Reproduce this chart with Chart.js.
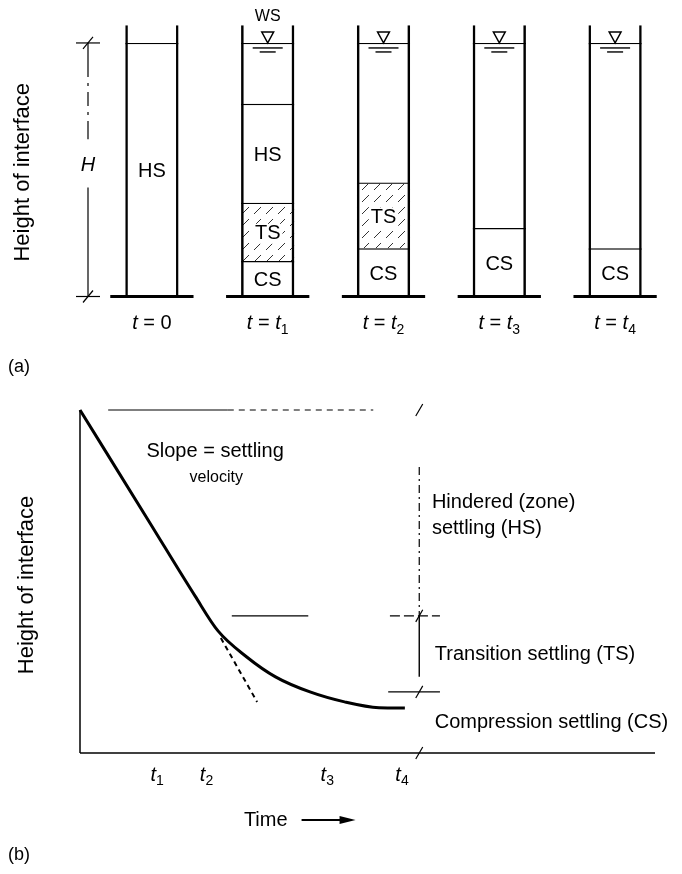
<!DOCTYPE html>
<html>
<head>
<meta charset="utf-8">
<script src="https://cdn.jsdelivr.net/npm/chart.js@4.4.1/dist/chart.umd.min.js"></script>
<style>
  body { margin: 0; background: #fff; }
  canvas { display: block; }
</style>
</head>
<body>
<canvas id="columns" width="682" height="380"></canvas>
<canvas id="curve" width="682" height="494"></canvas>
<script>
const FONT = '"Liberation Sans", Arial, sans-serif';

// (a) layers in each settling column, heights in % of H (water surface = 100)
const columnTimes = ['0', '1', '2', '3', '4'];
const csHeight = [null, 14, 19, 27, 19];
const tsHeight = [null, 23, 26, null, null];
const hsHeight = [100, 39, null, null, null];
const clearHeight = [null, 24, 55, 73, 81];
const wallHeight = [107, 107, 107, 107, 107];

// (b) height of interface against time
const timeValues = [0, 12, 20, 24, 29, 34, 40, 46, 52, 56.5];
const interfaceHeight = [100, 67.5, 45.8, 35.6, 28, 22.2, 17.8, 14.9, 13.2, 13.1];
const tangentTime = [24.5, 30.8];
const tangentHeight = [33.5, 14.9];
const timeTicks = [13.4, 22, 43, 56];
const timeTickNames = ['1', '2', '3', '4'];

// guide levels for the right-hand dimension
const levelTop = 100;
const levelTS = 40;
const levelCS = 17.8;
const dimTime = 59;

// text with italic / subscript parts
function drawParts(ctx, parts, x, y, size, align) {
  const fontOf = p => (p[1] === 'i' ? 'italic ' : '') + (p[1] === 's' ? Math.round(size * 0.72) : size) + 'px ' + FONT;
  let w = 0;
  parts.forEach(p => { ctx.font = fontOf(p); w += ctx.measureText(p[0]).width; });
  let cx = align === 'center' ? x - w / 2 : x;
  ctx.textAlign = 'left';
  parts.forEach(p => {
    ctx.font = fontOf(p);
    ctx.fillText(p[0], cx, p[1] === 's' ? y + size * 0.32 : y);
    cx += ctx.measureText(p[0]).width;
  });
}

function line(ctx, x1, y1, x2, y2) {
  ctx.beginPath(); ctx.moveTo(x1, y1); ctx.lineTo(x2, y2); ctx.stroke();
}

// hatch for transition zone
function makeHatch() {
  const c = document.createElement('canvas');
  c.width = 12; c.height = 12;
  const g = c.getContext('2d');
  g.strokeStyle = '#333'; g.lineWidth = 1;
  line(g, 2, 10, 9, 3);
  return g.createPattern(c, 'repeat');
}

const columnDecor = {
  id: 'columnDecor',
  afterDatasetsDraw(chart) {
    const {ctx, scales: {x, y}, chartArea} = chart;
    const base = y.getPixelForValue(0);
    const water = y.getPixelForValue(100);
    const half = chart.getDatasetMeta(0).data[0].width / 2;
    ctx.save();
    ctx.fillStyle = '#000';
    ctx.strokeStyle = '#000';
    ctx.textBaseline = 'middle';

    // zone names inside the layers
    chart.data.datasets.forEach((ds, di) => {
      if (!ds.label) return;
      const meta = chart.getDatasetMeta(di);
      ds.data.forEach((v, i) => {
        if (v == null) return;
        const el = meta.data[i];
        const cy = (el.y + el.base) / 2 + 2;
        ctx.font = '20px ' + FONT;
        ctx.textAlign = 'center';
        if (ds.label === 'TS') {
          const w = ctx.measureText('TS').width;
          ctx.fillStyle = '#fff';
          ctx.fillRect(el.x - w / 2 - 2, cy - 10, w + 4, 20);
          ctx.fillStyle = '#000';
        }
        ctx.fillText(ds.label, el.x, cy);
      });
    });

    columnTimes.forEach((t, i) => {
      const cx = x.getPixelForValue(i);
      // base plate
      ctx.lineWidth = 3;
      line(ctx, cx - half - 15, base, cx + half + 15, base);
      // water surface mark
      if (i > 0) {
        ctx.lineWidth = 1.4;
        ctx.beginPath();
        ctx.moveTo(cx, water);
        ctx.lineTo(cx - 6, water - 11);
        ctx.lineTo(cx + 6, water - 11);
        ctx.closePath();
        ctx.stroke();
        line(ctx, cx - 15, water + 5, cx + 15, water + 5);
        line(ctx, cx - 8, water + 9, cx + 8, water + 9);
      }
      // time label
      const parts = i === 0 ? [['t', 'i'], [' = 0', '']] : [['t', 'i'], [' = ', ''], ['t', 'i'], [t, 's']];
      drawParts(ctx, parts, cx, base + 27, 20, 'center');
    });

    ctx.font = '16px ' + FONT;
    ctx.textAlign = 'center';
    ctx.fillText('WS', x.getPixelForValue(1), water - 26);

    // H dimension
    const dx = chartArea.left - 6;
    ctx.lineWidth = 1.2;
    ctx.setLineDash([34, 6, 3, 6, 14, 6, 3, 6, 20]);
    line(ctx, dx, water, dx, y.getPixelForValue(62));
    ctx.setLineDash([]);
    line(ctx, dx, y.getPixelForValue(43), dx, base);
    [water, base].forEach(py => {
      line(ctx, dx - 12, py, dx + 12, py);
      line(ctx, dx - 5, py + 6, dx + 5, py - 6);
    });
    drawParts(ctx, [['H', 'i']], dx, y.getPixelForValue(51.5), 20, 'center');

    ctx.font = '18px ' + FONT;
    ctx.textAlign = 'left';
    ctx.fillText('(a)', 8, base + 71);

    ctx.translate(chartArea.left - 71, y.getPixelForValue(49));
    ctx.rotate(-Math.PI / 2);
    ctx.font = '22px ' + FONT;
    ctx.textAlign = 'center';
    ctx.fillText('Height of interface', 0, 0);
    ctx.restore();
  }
};

const hatch = makeHatch();
const layer = (label, data, fill) => ({
  label: label,
  data: data,
  stack: 'fill',
  grouped: false,
  backgroundColor: fill,
  borderColor: '#000',
  borderWidth: {top: 1.4, left: 0, right: 0, bottom: 0},
  borderSkipped: false
});

new Chart(document.getElementById('columns'), {
  type: 'bar',
  data: {
    labels: columnTimes,
    datasets: [
      {
        label: '',
        data: wallHeight,
        stack: 'wall',
        grouped: false,
        backgroundColor: 'rgba(0,0,0,0)',
        borderColor: '#000',
        borderWidth: {top: 0, left: 2.5, right: 2.5, bottom: 0},
        borderSkipped: false
      },
      layer('CS', csHeight, '#fff'),
      layer('TS', tsHeight, hatch),
      layer('HS', hsHeight, '#fff'),
      layer('', clearHeight, '#fff')
    ]
  },
  options: {
    responsive: false,
    animation: false,
    devicePixelRatio: 1,
    layout: {padding: {left: 94, right: 9, top: 17.6, bottom: 83.5}, autoPadding: false},
    datasets: {bar: {categoryPercentage: 1, barPercentage: 0.46}},
    plugins: {legend: {display: false}, tooltip: {enabled: false}},
    scales: {
      x: {display: false},
      y: {display: false, stacked: true, min: 0, max: 110}
    }
  },
  plugins: [columnDecor]
});

// (b)
const notes = [
  {text: 'Slope = settling', x: 23.5, y: 87.8, size: 20, align: 'center'},
  {text: 'velocity', x: 23.7, y: 80.2, size: 16, align: 'center'},
  {text: 'Hindered (zone)', x: 61.2, y: 72.9, size: 20, align: 'left'},
  {text: 'settling (HS)', x: 61.2, y: 65.6, size: 20, align: 'left'},
  {text: 'Transition settling (TS)', x: 61.7, y: 28.6, size: 20, align: 'left'},
  {text: 'Compression settling (CS)', x: 61.7, y: 9.0, size: 20, align: 'left'}
];

const curveDecor = {
  id: 'curveDecor',
  afterDatasetsDraw(chart) {
    const {ctx, scales: {x, y}, chartArea} = chart;
    ctx.save();
    ctx.fillStyle = '#000';
    ctx.strokeStyle = '#000';
    ctx.textBaseline = 'middle';
    notes.forEach(n => {
      ctx.font = n.size + 'px ' + FONT;
      ctx.textAlign = n.align;
      ctx.fillText(n.text, x.getPixelForValue(n.x), y.getPixelForValue(n.y));
    });
    timeTicks.forEach((v, i) => {
      drawParts(ctx, [['t', 'i'], [timeTickNames[i], 's']], x.getPixelForValue(v), chartArea.bottom + 22, 20, 'center');
    });

    // Time -->
    ctx.font = '20px ' + FONT;
    ctx.textAlign = 'left';
    const tx = x.getPixelForValue(28.5);
    const ty = chartArea.bottom + 67;
    ctx.fillText('Time', tx, ty);
    const ax = tx + ctx.measureText('Time').width + 14;
    ctx.lineWidth = 2;
    line(ctx, ax, ty, ax + 40, ty);
    ctx.beginPath();
    ctx.moveTo(ax + 54, ty);
    ctx.lineTo(ax + 38, ty - 4);
    ctx.lineTo(ax + 38, ty + 4);
    ctx.closePath();
    ctx.fill();

    ctx.font = '18px ' + FONT;
    ctx.fillText('(b)', 8, chartArea.bottom + 102);

    ctx.translate(chartArea.left - 53, y.getPixelForValue(49));
    ctx.rotate(-Math.PI / 2);
    ctx.font = '22px ' + FONT;
    ctx.textAlign = 'center';
    ctx.fillText('Height of interface', 0, 0);
    ctx.restore();
  }
};

const pts = (xs, ys) => xs.map((v, i) => ({x: v, y: ys[i]}));
const guide = (data, width, dash) => ({
  data: data,
  borderColor: '#000',
  borderWidth: width,
  borderDash: dash,
  pointRadius: 0,
  clip: false
});

new Chart(document.getElementById('curve'), {
  type: 'line',
  data: {
    datasets: [
      {
        data: pts(timeValues, interfaceHeight),
        borderColor: '#000',
        borderWidth: 3,
        pointRadius: 0,
        cubicInterpolationMode: 'monotone',
        clip: false
      },
      guide(pts(tangentTime, tangentHeight), 2, [5, 4]),
      guide([{x: 0, y: 0}, {x: 0, y: levelTop}], 1.5, []),
      guide([{x: 0, y: 0}, {x: 100, y: 0}], 1.5, []),
      guide([{x: 4.9, y: levelTop}, {x: 25.7, y: levelTop}], 1.2, []),
      guide([{x: 25.7, y: levelTop}, {x: 51, y: levelTop}], 1.2, [6, 5]),
      guide([{x: 26.4, y: levelTS}, {x: 39.7, y: levelTS}], 1.2, []),
      guide([{x: 53.9, y: levelTS}, {x: 62.6, y: levelTS}], 1.2, [10, 4]),
      guide([{x: 53.6, y: levelCS}, {x: 62.6, y: levelCS}], 1.2, []),
      guide([{x: dimTime, y: 83.4}, {x: dimTime, y: levelTS}], 1.2, [8, 4, 2, 4]),
      guide([{x: dimTime, y: levelTS}, {x: dimTime, y: 22.2}], 1.4, []),
      {
        data: [levelTop, levelTS, levelCS, 0].map(v => ({x: dimTime, y: v})),
        showLine: false,
        pointStyle: 'line',
        pointRadius: 7,
        pointRotation: -60,
        pointBorderWidth: 1.2,
        borderColor: '#000',
        clip: false
      }
    ]
  },
  options: {
    responsive: false,
    animation: false,
    devicePixelRatio: 1,
    layout: {padding: {left: 80, right: 27, top: 30, bottom: 121}, autoPadding: false},
    plugins: {legend: {display: false}, tooltip: {enabled: false}},
    scales: {
      x: {type: 'linear', display: false, min: 0, max: 100},
      y: {type: 'linear', display: false, min: 0, max: 100}
    }
  },
  plugins: [curveDecor]
});
</script>
</body>
</html>
